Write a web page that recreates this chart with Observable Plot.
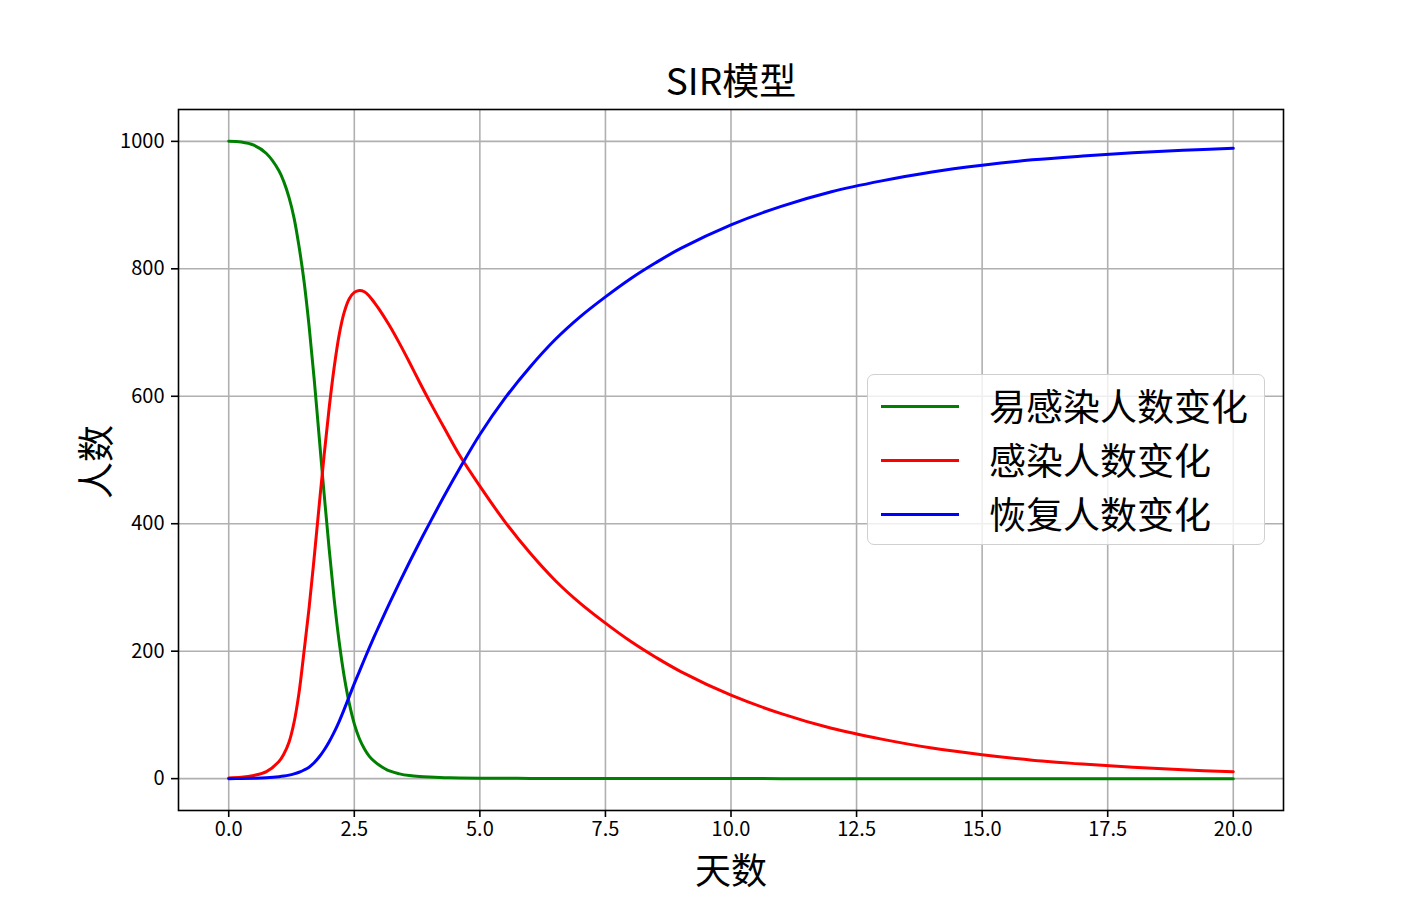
<!DOCTYPE html>
<html><head><meta charset="utf-8">
<script src="https://cdn.jsdelivr.net/npm/d3@7"></script>
<script src="https://cdn.jsdelivr.net/npm/@observablehq/plot@0.6"></script>
<style>
html,body{margin:0;padding:0;background:#fff;}
#wrap{position:relative;width:1426px;height:911px;font-family:"Noto Sans CJK SC",sans-serif;}
#legend{position:absolute;left:867px;top:374px;width:396px;height:169px;border:1.6px solid #d0d0d0;border-radius:7px;background:rgba(255,255,255,0.8);}
.sw{position:absolute;left:13px;width:78px;height:3px;}
.lt{position:absolute;left:121px;font-size:37px;line-height:1;white-space:nowrap;color:#000;transform:translateY(-50%);}
</style></head><body><div id="wrap"></div>
<script>
const tDays = [0,0.25,0.5,0.75,1,1.1,1.2,1.3,1.4,1.5,1.6,1.7,1.8,1.9,2,2.1,2.2,2.3,2.4,2.5,2.6,2.7,2.8,2.9,3,3.2,3.4,3.6,3.8,4,4.3,4.6,5,5.5,6,6.5,7,7.5,8,8.5,9,10,11,12,13,14,15,16,17,18,19,20];
const susceptible = [1000,999,994,981,954,936,912,880,835,780,710,628,537,446,360,281,214,160,118,86,63,47,35,27,21,12,7.5,4.8,3.3,2.4,1.5,1.0,0.7,0.5,0.4,0.3,0.2,0.2,0.1,0.1,0.1,0.1,0,0,0,0,0,0,0,0,0,0];
const infected = [1,2,5,11,27,39,57,88,135,200,268,346,428,508,582,646,697,732,753,763,766,764,757,747,736,711,683,653,622,592,549,507,459,403,354,311,275,244,215.5,190.5,168,131,102,79,62,48,37.5,29,22.8,17.8,13.8,10.8];
const recovered = [0,0.2,0.7,1.5,3,4,5.5,7.5,10,13.5,18,25,34,45,58,73,90,109,129,149,168,187,205.5,223.5,241,275,308,340,371,401,445,487,540,597,646,689,725,756,784.5,809.5,832,869,898,921,938,952,962.5,971,977,982,986,989];
const seriesNames = ["易感染人数变化","感染人数变化","恢复人数变化"];
const seriesColors = ["green","red","blue"];
const xTicks = [0,2.5,5,7.5,10,12.5,15,17.5,20];
const yTicks = [0,200,400,600,800,1000];
const titleText = "SIR模型";
const xLabel = "天数";
const yLabel = "人数";

const seriesValues = [susceptible, infected, recovered];
const rows = seriesValues.flatMap((vals, k) => tDays.map((t, i) => ({t, v: vals[i], series: seriesNames[k]})));

const chart = Plot.plot({
  width: 1426, height: 911,
  marginLeft: 178, marginRight: 143, marginTop: 109, marginBottom: 101,
  style: {fontFamily: '"Noto Sans CJK SC", sans-serif', fontSize: "20px", background: "#fff", color: "#000", overflow: "visible"},
  x: {domain: [-1, 21]},
  y: {domain: [-50, 1050]},
  color: {domain: seriesNames, range: seriesColors},
  marks: [
    Plot.ruleX(xTicks, {x: d => d, stroke: "#b0b0b0", strokeWidth: 1.6}),
    Plot.ruleY(yTicks, {y: d => d, stroke: "#b0b0b0", strokeWidth: 1.6}),
    Plot.line(rows, {x: "t", y: "v", z: "series", stroke: "series", strokeWidth: 3, curve: "catmull-rom"}),
    Plot.frame({stroke: "black", strokeWidth: 1.6}),
    Plot.axisX(xTicks, {tickSize: 7, tickPadding: 4, tickFormat: d => d.toFixed(1), fontSize: 20, strokeWidth: 1.6, label: null}),
    Plot.axisY(yTicks, {tickSize: 7, tickPadding: 7, tickFormat: d => String(d), fontSize: 20, strokeWidth: 1.6, label: null}),
    Plot.text([titleText], {frameAnchor: "top", lineAnchor: "middle", textAnchor: "middle", dy: -26, fontSize: 37}),
    Plot.text([xLabel], {frameAnchor: "bottom", lineAnchor: "middle", textAnchor: "middle", dy: 62, fontSize: 36}),
    Plot.text([yLabel], {frameAnchor: "left", lineAnchor: "middle", textAnchor: "middle", dx: -80, dy: 2, rotate: -90, fontSize: 37})
  ]
});

const wrap = document.getElementById("wrap");
wrap.appendChild(chart);
const legend = document.createElement("div");
legend.id = "legend";
seriesNames.forEach((name, i) => {
  const cy = 31 + 54 * i;
  const sw = document.createElement("div");
  sw.className = "sw";
  sw.style.top = (cy - 1.5) + "px";
  sw.style.background = seriesColors[i];
  legend.appendChild(sw);
  const lt = document.createElement("div");
  lt.className = "lt";
  lt.style.top = (cy - 1) + "px";
  lt.textContent = name;
  legend.appendChild(lt);
});
wrap.appendChild(legend);
</script></body></html>
